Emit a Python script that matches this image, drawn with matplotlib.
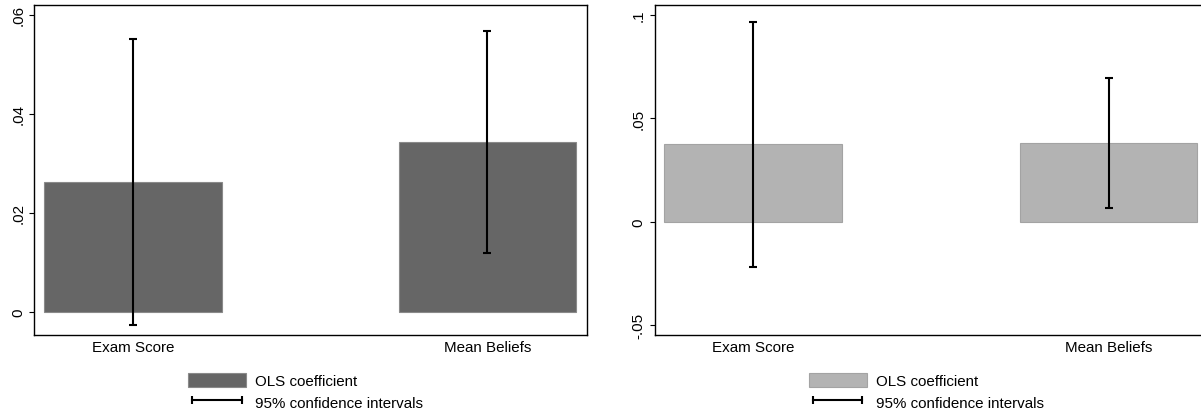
import matplotlib
matplotlib.use("Agg")
import matplotlib.pyplot as plt
from matplotlib.patches import Patch
from matplotlib.lines import Line2D
import numpy as np

plt.rcParams['font.family'] = ['Liberation Sans', 'DejaVu Sans']

categories = ["Exam Score", "Mean Beliefs"]

# panel 1
coef_a = [0.0261, 0.0343]
lo_a = [-0.0027, 0.0118]
hi_a = [0.0551, 0.0568]

# panel 2
coef_b = [0.0374, 0.0381]
lo_b = [-0.0218, 0.0065]
hi_b = [0.0966, 0.0695]

yticks_a = [0, 0.02, 0.04, 0.06]
yticklabels_a = ["0", ".02", ".04", ".06"]
yticks_b = [-0.05, 0, 0.05, 0.1]
yticklabels_b = ["-.05", "0", ".05", ".1"]

W, H = 1201, 414
fig = plt.figure(figsize=(W / 100, H / 100), dpi=100)
fs = 10.9


def panel(rect, coef, lo, hi, fill, edge, ylim, yticks, yticklabels):
    ax = fig.add_axes(rect)
    x = np.arange(len(categories))
    ax.bar(x, coef, width=0.5, color=fill, edgecolor=edge, linewidth=0.8, zorder=2)
    coef = np.array(coef)
    yerr = [coef - np.array(lo), np.array(hi) - coef]
    ax.errorbar(x, coef, yerr=yerr, fmt='none', ecolor='black', elinewidth=1.5,
                capsize=2.8, capthick=1.5, zorder=3)
    ax.set_xlim(-0.278, 1.28)
    ax.set_ylim(*ylim)
    ax.set_xticks(x)
    ax.set_xticklabels(categories, fontsize=fs)
    ax.set_yticks(yticks)
    ax.set_yticklabels(yticklabels, rotation=90, va='center', fontsize=fs)
    ax.tick_params(axis='x', length=0, pad=3.5)
    ax.tick_params(axis='y', length=3.6, width=0.8, pad=3)
    for s in ax.spines.values():
        s.set_linewidth(1.0)
        s.set_color('black')
    handles = [Patch(facecolor=fill, edgecolor=edge, linewidth=0.8),
               Line2D([], [], color='black', lw=1.5, marker='|', markersize=6,
                      markeredgewidth=1.5)]
    ax.legend(handles, ["OLS coefficient", "95% confidence intervals"],
              loc='upper center', bbox_to_anchor=(0.491, -0.091), frameon=False,
              fontsize=fs, numpoints=2, handlelength=3.85, handleheight=1.06,
              handletextpad=0.6, labelspacing=0.43, borderpad=0)
    return ax


bottom = (H - 336) / H
height = 330 / H
panel([34.3 / W, bottom, 552.4 / W, height], coef_a, lo_a, hi_a,
      '#666666', '#8a8a8a', (-0.00471, 0.06196), yticks_a, yticklabels_a)
panel([654.5 / W, bottom, 553.5 / W, height], coef_b, lo_b, hi_b,
      '#b3b3b3', '#a3a3a3', (-0.0548, 0.1047), yticks_b, yticklabels_b)

fig.savefig("out.png", dpi=100)
